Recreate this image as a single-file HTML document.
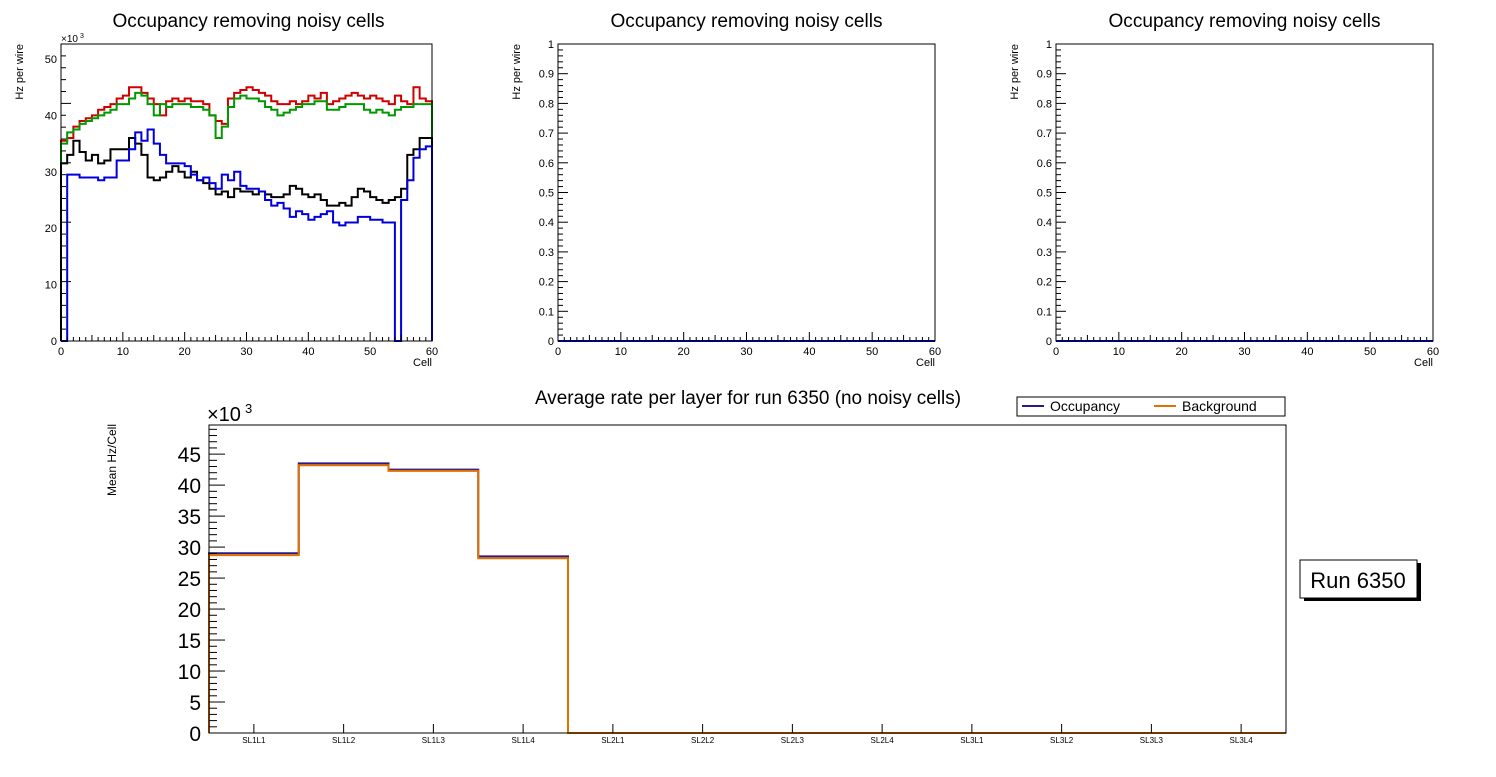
<!DOCTYPE html>
<html><head><meta charset="utf-8"><style>
body{margin:0;background:#fff;font-family:"Liberation Sans",sans-serif}
svg text{font-family:"Liberation Sans",sans-serif}
</style></head><body>
<svg id="s" width="1496" height="772" xmlns="http://www.w3.org/2000/svg"></svg>
<script>
const red=[35.5,36,38,39,39.5,40,41,41.5,42,43,43.5,45,45,44,43,42,40,42.5,43,42.5,43,42.5,42.5,42,40,39,38.5,43,44,44.5,45,44.5,44,43.5,42.5,42,42,42.5,42,42.5,43.5,43,44,42,42.5,43,43.5,44,43.5,43,43.5,43,42.5,42,43.5,42.5,42,45,43,42.5];
const green=[35,37,37.5,38.5,39,39.5,40,40.5,41,42,42,43,44,43.5,42,40,42,41.5,42,42,42,41.5,41.5,41,40,36,38,41.5,43,43.5,43,43,42.5,41.5,41,40,40.5,41,41.5,42,42,42.5,42.5,41,41,41.5,42,42,42,41,40.5,41,40.5,40,41,41.5,41.5,42,42,42];
const black=[31.5,33,35.5,33.5,32,33,31.5,32,34,34,34,36,35,33,29,28.5,29,30,31,30,29,30,28.5,28,27,26,26.5,25.5,27,26.5,26.5,26,26.5,26,25.5,25.5,26,27.5,27,26,25.5,26,25,24,24,24.5,24,25.5,27,26.5,25.5,25,24.5,25,25.5,27,33,34,36,36];
const blue=[0,29.5,29.5,29,29,29,28.5,29,29,32,32,34,37,35.5,37.5,35,33,31.5,31.5,31.5,31,29.5,28.5,29,28,27,29.5,28.5,30,27.5,27,27,26.5,25,24,24.5,23.5,22,23,22.5,21.5,22,22.5,23,21,20.5,21,21,22,22,21.5,21.5,21,21,0,25,28.5,32.5,34,34.5];
const layers=["SL1L1","SL1L2","SL1L3","SL1L4","SL2L1","SL2L2","SL2L3","SL2L4","SL3L1","SL3L2","SL3L3","SL3L4"];
const occ=[29,43.5,42.5,28.5,0,0,0,0,0,0,0,0];
const bkg=[28.7,43.2,42.3,28.2,0,0,0,0,0,0,0,0];
const xticks=[0,10,20,30,40,50,60];
const yticksTop=[0,10,20,30,40,50];
const yticksUnit=[0,0.1,0.2,0.3,0.4,0.5,0.6,0.7,0.8,0.9,1];
const yticksBot=[0,5,10,15,20,25,30,35,40,45];

const S=document.getElementById('s');const NS='http://www.w3.org/2000/svg';
function el(t,a,txt){const e=document.createElementNS(NS,t);for(const k in a)e.setAttribute(k,a[k]);if(txt!=null)e.textContent=txt;S.appendChild(e);return e;}
function stepPath(vals,xs,ys,x0){let d='M'+xs(x0)+','+ys(0);vals.forEach((v,i)=>{d+='L'+xs(x0+i)+','+ys(v)+'L'+xs(x0+i+1)+','+ys(v);});d+='L'+xs(x0+vals.length)+','+ys(0);return d;}

function panel(L,R,T,B,ymax,yt,fmt,series,idx,exp){
  const xs=v=>L+(R-L)*v/60, ys=v=>B-(B-T)*v/ymax;
  let t=el('text',{x:(L+R)/2+(idx==0?2:0),y:27,'font-size':19,'text-anchor':'middle',textLength:272,lengthAdjust:'spacingAndGlyphs'},'Occupancy removing noisy cells');
  
  series.forEach(s=>{const p=el('path',{d:stepPath(s.v,xs,ys,0),fill:'none',stroke:s.c,'stroke-width':2});});
  let f=el('rect',{x:L,y:T,width:R-L,height:B-T,fill:'none',stroke:'#000','stroke-width':1});
  
  for(let v=0;v<=60;v+=1){const len=v%10==0?9:(v%5==0?6:4);el('line',{x1:xs(v),x2:xs(v),y1:B,y2:B-len,stroke:'#000'});}
  xticks.forEach(v=>{const e=el('text',{x:xs(v),y:B+14,'font-size':11,'text-anchor':'middle'},v);});
  const minor=ymax/ (yt.length-1)/5;
  for(let v=0;v<=ymax+1e-9;v+=minor){const maj=Math.abs(v/(minor*5)-Math.round(v/(minor*5)))<1e-6;el('line',{x1:L,x2:L+(maj?10:5),y1:ys(v),y2:ys(v),stroke:'#000'});}
  yt.forEach(v=>{const e=el('text',{x:L-4,y:ys(v)+4,'font-size':11,'text-anchor':'end'},fmt(v));});
  let xl=el('text',{x:R,y:B+25,'font-size':11,'text-anchor':'end'},'Cell');
  let yl=el('text',{x:0,y:0,'font-size':11,'text-anchor':'end',transform:`translate(${L-38},${T}) rotate(-90)`},'Hz per wire');
  if(exp){let e=el('text',{x:L,y:T-2,'font-size':10},'×10');el('text',{x:L+19,y:T-6,'font-size':7},'3');}
}
panel(61,432,44,341,50*(341-44)/(341-59),yticksTop,v=>v,[{v:red,c:'#d00000',n:'series-red'},{v:green,c:'#009900',n:'series-green'},{v:black,c:'#000',n:'series-black'},{v:blue,c:'#0000dd',n:'series-blue'}],0,true);
const zero=new Array(60).fill(0);
panel(558,935,44,341,1,yticksUnit,v=>v==0?'0':(v==1?'1':v.toFixed(1)),[{v:zero,c:'#0000dd',n:'series-blue'}],1,false);
panel(1056,1433,44,341,1,yticksUnit,v=>v==0?'0':(v==1?'1':v.toFixed(1)),[{v:zero,c:'#0000dd',n:'series-blue'}],2,false);

(function(){
  const L=209,R=1286,T=425,B=733,ymax=49.7;
  const xs=i=>L+(R-L)*i/12, ys=v=>B-(B-T)*v/ymax;
  let t=el('text',{x:748,y:404,'font-size':19,'text-anchor':'middle',textLength:426,lengthAdjust:'spacingAndGlyphs'},'Average rate per layer for run 6350 (no noisy cells)');
  let p1=el('path',{d:stepPath(occ,xs,ys,0),fill:'none',stroke:'#2a1a8a','stroke-width':2});
  let p2=el('path',{d:stepPath(bkg,xs,ys,0),fill:'none',stroke:'#e07000','stroke-width':2});
  let f=el('rect',{x:L,y:T,width:R-L,height:B-T,fill:'none',stroke:'#000'});
  for(let v=0;v<=ymax;v+=1){const maj=v%5==0;el('line',{x1:L,x2:L+(maj?16:8),y1:ys(v),y2:ys(v),stroke:'#000'});}
  yticksBot.forEach(v=>{const e=el('text',{x:L-8,y:ys(v)+8,'font-size':21,'text-anchor':'end'},v);});
  let ex=el('text',{x:L-2,y:T-4,'font-size':20},'×10');
  el('text',{x:L+36,y:T-12,'font-size':13},'3');
  layers.forEach((n,i)=>{el('line',{x1:xs(i+0.5),x2:xs(i+0.5),y1:B,y2:B-9,stroke:'#000'});const e=el('text',{x:xs(i+0.5),y:B+10,'font-size':8,'text-anchor':'middle'},n);});
  let yl=el('text',{x:0,y:0,'font-size':12,'text-anchor':'middle',transform:`translate(116,${460}) rotate(-90)`},'Mean Hz/Cell');
  let lg=el('rect',{x:1017,y:397,width:268,height:19,fill:'#fff',stroke:'#000'});
  el('line',{x1:1022,x2:1044,y1:406,y2:406,stroke:'#2a1a8a','stroke-width':2});
  let a=el('text',{x:1050,y:411,'font-size':14},'Occupancy');
  el('line',{x1:1154,x2:1176,y1:406,y2:406,stroke:'#e07000','stroke-width':2});
  let b=el('text',{x:1182,y:411,'font-size':14},'Background');
  el('rect',{x:1304,y:563,width:117,height:38,fill:'#000'});
  let rb=el('rect',{x:1300,y:560,width:117,height:38,fill:'#fff',stroke:'#000'});
  let rt=el('text',{x:1358,y:588,'font-size':22,'text-anchor':'middle'},'Run 6350');
})();
</script>
</body></html>
